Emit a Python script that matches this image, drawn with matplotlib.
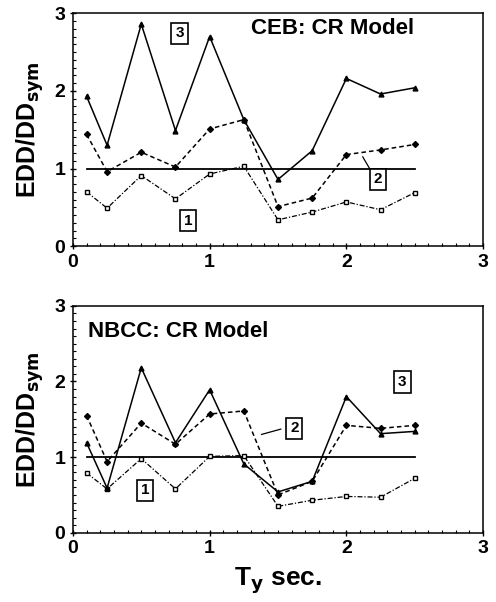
import numpy as np
import matplotlib.pyplot as plt
from matplotlib.ticker import MultipleLocator

plt.rcParams['font.family'] = ['Liberation Sans', 'DejaVu Sans']
plt.rcParams['font.weight'] = 'bold'

# periods T_y (sec.)
ty = [0.1, 0.25, 0.5, 0.75, 1.0, 1.25, 1.5, 1.75, 2.0, 2.25, 2.5]

# CEB: CR Model
ceb_1 = [0.70, 0.49, 0.91, 0.61, 0.93, 1.03, 0.34, 0.44, 0.57, 0.47, 0.69]
ceb_2 = [1.44, 0.96, 1.21, 1.02, 1.51, 1.63, 0.51, 0.62, 1.18, 1.24, 1.31]
ceb_3 = [1.93, 1.30, 2.86, 1.49, 2.70, 1.63, 0.86, 1.23, 2.16, 1.96, 2.04]

# NBCC: CR Model
nbcc_1 = [0.79, 0.58, 0.98, 0.58, 1.01, 1.02, 0.35, 0.43, 0.48, 0.47, 0.72]
nbcc_2 = [1.55, 0.94, 1.45, 1.17, 1.57, 1.61, 0.50, 0.68, 1.42, 1.38, 1.42]
nbcc_3 = [1.19, 0.59, 2.18, 1.19, 1.89, 0.91, 0.54, 0.68, 1.80, 1.31, 1.34]

fig = plt.figure(figsize=(4.96, 6.02), dpi=100)
ax1 = fig.add_axes([0.147, 0.591, 0.827, 0.387])
ax2 = fig.add_axes([0.147, 0.115, 0.827, 0.377])


def draw(ax, s1, s2, s3):
    ax.plot([ty[0], ty[-1]], [1, 1], color='black', lw=1.3)
    ax.plot(ty, s1, color='black', lw=0.9, ls=(0, (4, 1.5, 1, 1.5)),
            marker='s', ms=3.5, mfc='white', mec='black', mew=1)
    ax.plot(ty, s2, color='black', lw=1.1, ls=(0, (3, 2)),
            marker='D', ms=3, mfc='black', mec='black')
    ax.plot(ty, s3, color='black', lw=1.1, ls='-',
            marker='^', ms=3.5, mfc='black', mec='black')
    ax.set_xlim(0, 3)
    ax.set_ylim(0, 3)
    ax.set_xticks([0, 1, 2, 3])
    ax.set_yticks([0, 1, 2, 3])
    ax.xaxis.set_minor_locator(MultipleLocator(0.1))
    ax.yaxis.set_minor_locator(MultipleLocator(0.1))
    ax.tick_params(which='major', direction='inout', length=5, width=1,
                   labelsize=14, pad=3)
    ax.tick_params(which='minor', direction='in', length=2.5, width=0.8)
    for lab in ax.get_xticklabels() + ax.get_yticklabels():
        lab.set_fontweight('bold')
    for s in ax.spines.values():
        s.set_linewidth(1.1)
    ax.set_ylabel('EDD/DD$_{\\mathbf{sym}}$', fontsize=18, fontweight='bold',
                  labelpad=6)


def box(ax, x, y, t):
    ax.text(x, y, t, fontsize=11, fontweight='bold', ha='center', va='center',
            bbox=dict(boxstyle='square,pad=0.25', fc='white', ec='black', lw=1.2))


draw(ax1, ceb_1, ceb_2, ceb_3)
ax1.text(1.9, 2.8, 'CEB: CR Model', fontsize=16, fontweight='bold',
         ha='center', va='center')
box(ax1, 0.78, 2.74, '3')
box(ax1, 2.23, 0.86, '2')
box(ax1, 0.84, 0.33, '1')
ax1.plot([2.17, 2.12], [1.0, 1.15], color='black', lw=0.9)

draw(ax2, nbcc_1, nbcc_2, nbcc_3)
ax2.text(0.11, 2.66, 'NBCC: CR Model', fontsize=16, fontweight='bold',
         ha='left', va='center')
box(ax2, 2.41, 1.99, '3')
box(ax2, 1.62, 1.38, '2')
box(ax2, 0.53, 0.56, '1')
ax2.plot([1.52, 1.38], [1.37, 1.30], color='black', lw=0.9)
ax2.set_xlabel('T$_{\\mathbf{y}}$ sec.', fontsize=19, fontweight='bold',
               labelpad=6)

fig.savefig('out.png', dpi=100)
